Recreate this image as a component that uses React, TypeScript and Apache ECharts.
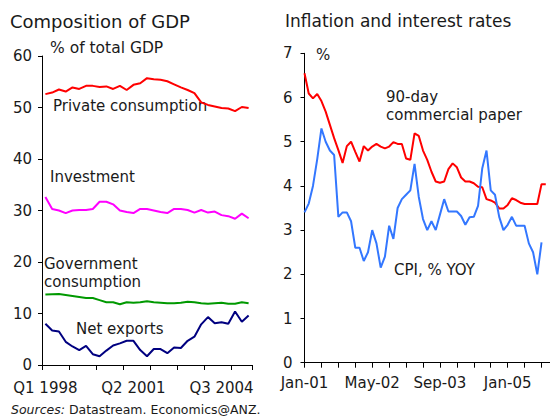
import React, { useEffect, useRef } from "react";
import * as echarts from "echarts";

// ---------- Left panel: Composition of GDP (quarterly, Q1 1998 – Q3 2005) ----------
const quarterYears = [1998, 1999, 2000, 2001, 2002, 2003, 2004, 2005];
const quarters: string[] = [];
quarterYears.forEach((y) => {
  for (let q = 1; q <= 4; q++) {
    if (y === 2005 && q > 3) break;
    quarters.push(`Q${q} ${y}`);
  }
});

const privateConsumption = [52.6, 52.9, 53.5, 53.1, 53.9, 53.6, 54.2, 54.2, 54.0, 54.1, 53.6, 54.2, 53.4, 54.4, 54.7, 55.7, 55.5, 55.4, 55.1, 54.5, 53.9, 53.4, 52.8, 51.0, 50.5, 50.2, 49.9, 49.8, 49.3, 50.1, 49.9];
const investment = [32.6, 30.3, 30.0, 29.5, 30.0, 30.1, 30.1, 30.3, 31.7, 31.7, 31.2, 30.0, 29.7, 29.5, 30.3, 30.3, 30.0, 29.7, 29.5, 30.3, 30.3, 30.1, 29.6, 30.1, 29.6, 29.8, 29.1, 28.9, 28.4, 29.4, 28.5];
const governmentConsumption = [13.7, 13.75, 13.8, 13.6, 13.4, 13.2, 13.0, 13.0, 12.6, 12.2, 12.2, 11.8, 12.2, 12.1, 12.2, 12.4, 12.2, 12.1, 12.0, 12.0, 12.1, 12.3, 12.2, 12.0, 11.9, 12.0, 12.1, 11.9, 11.9, 12.2, 12.0];
const netExports = [8.0, 6.7, 6.5, 4.5, 3.6, 2.9, 3.7, 2.1, 1.7, 2.8, 3.8, 4.2, 4.7, 4.7, 2.9, 1.7, 3.1, 3.1, 2.3, 3.4, 3.3, 4.7, 5.5, 7.9, 9.3, 8.1, 8.3, 8.0, 10.4, 8.4, 9.6];

// ---------- Right panel: Inflation and interest rates (monthly, Jan-01 – Nov-05) ----------
const monthNames = ["Jan", "Feb", "Mar", "Apr", "May", "Jun", "Jul", "Aug", "Sep", "Oct", "Nov", "Dec"];
const monthYears = ["01", "02", "03", "04", "05"];
const months: string[] = [];
monthYears.forEach((yy) => {
  monthNames.forEach((m, k) => {
    if (yy === "05" && k > 10) return;
    months.push(`${m}-${yy}`);
  });
});

const commercialPaper90 = [
  6.55, 6.09, 5.98, 6.08, 5.92, 5.68, 5.38, 5.08, 4.81, 4.52, 4.9, 5.0, 4.77, 4.55, 4.9,
  4.8, 4.89, 4.95, 4.89, 4.85, 4.89, 4.99, 4.95, 4.95, 4.62, 4.59, 5.19, 5.13, 4.8,
  4.59, 4.32, 4.1, 4.07, 4.1, 4.38, 4.51, 4.42, 4.19, 4.1, 4.1, 4.06, 3.98, 3.97,
  3.7, 3.67, 3.62, 3.49, 3.49, 3.57, 3.72, 3.68, 3.62, 3.59, 3.59, 3.59, 3.59, 4.04, 4.04,
];
const cpiYoY = [
  3.4, 3.6, 4.0, 4.6, 5.3, 5.0, 4.8, 4.7, 3.3, 3.4,
  3.4, 3.2, 2.6, 2.6, 2.3, 2.5, 3.0, 2.7, 2.15, 2.4,
  3.1, 2.8, 3.5, 3.7, 3.8, 3.9, 4.5, 3.75, 3.25, 3.0,
  3.2, 3.0, 3.35, 3.7, 3.42, 3.42, 3.42, 3.32, 3.12, 3.29,
  3.3, 3.55, 4.4, 4.8, 3.9, 3.8, 3.3, 3.0, 3.12, 3.3,
  3.1, 3.1, 3.1, 2.7, 2.5, 2.0, 2.72,
];

const FONT = "'DejaVu Sans', Verdana, sans-serif";
const TEXT_COLOR = "#1a1a1a";

function label(text: string, x: number, baseline: number, size = 15, extra: any = {}) {
  return {
    type: "text",
    x,
    y: baseline - size * 0.36,
    silent: true,
    style: {
      text,
      fontFamily: FONT,
      fontSize: size,
      fill: TEXT_COLOR,
      textAlign: "left",
      textVerticalAlign: "middle",
      ...extra,
    },
  };
}

export default function App() {
  const ref = useRef<HTMLDivElement>(null);

  useEffect(() => {
    if (!ref.current) return;
    const chart = echarts.init(ref.current, undefined, { renderer: "svg" });

    const axisLine = { show: true, lineStyle: { color: "#000", width: 1 } };
    const axisLabelBase = { fontFamily: FONT, fontSize: 15, color: TEXT_COLOR };

    chart.setOption({
      animation: false,
      backgroundColor: "#fff",
      grid: [
        { left: 42, top: 56, width: 210, height: 309 },
        { left: 304.5, top: 53.3, width: 247.2, height: 309.4 },
      ],
      xAxis: [
        {
          type: "category",
          gridIndex: 0,
          data: quarters,
          boundaryGap: true,
          axisLine,
          axisTick: { show: true, interval: 3, length: 5, lineStyle: { color: "#000" } },
          axisLabel: { ...axisLabelBase, interval: 12, margin: 15 },
          splitLine: { show: false },
        },
        {
          type: "category",
          gridIndex: 1,
          data: months,
          boundaryGap: false,
          axisLine,
          axisTick: { show: true, interval: 3, length: 5, lineStyle: { color: "#000" } },
          axisLabel: { ...axisLabelBase, interval: 15, margin: 13 },
          splitLine: { show: false },
        },
      ],
      yAxis: [
        {
          type: "value",
          gridIndex: 0,
          min: 0,
          max: 60,
          interval: 10,
          axisLine,
          axisTick: { show: true, length: 4, lineStyle: { color: "#000" } },
          axisLabel: { ...axisLabelBase, margin: 10 },
          splitLine: { show: false },
        },
        {
          type: "value",
          gridIndex: 1,
          min: 0,
          max: 7,
          interval: 1,
          axisLine,
          axisTick: { show: true, length: 4, lineStyle: { color: "#000" } },
          axisLabel: { ...axisLabelBase, margin: 12 },
          splitLine: { show: false },
        },
      ],
      series: [
        { name: "Private consumption", type: "line", xAxisIndex: 0, yAxisIndex: 0, data: privateConsumption, symbol: "none", lineStyle: { color: "#FF0000", width: 2 } },
        { name: "Investment", type: "line", xAxisIndex: 0, yAxisIndex: 0, data: investment, symbol: "none", lineStyle: { color: "#FF00FF", width: 2 } },
        { name: "Government consumption", type: "line", xAxisIndex: 0, yAxisIndex: 0, data: governmentConsumption, symbol: "none", lineStyle: { color: "#009900", width: 2 } },
        { name: "Net exports", type: "line", xAxisIndex: 0, yAxisIndex: 0, data: netExports, symbol: "none", lineStyle: { color: "#000080", width: 2 } },
        { name: "90-day commercial paper", type: "line", xAxisIndex: 1, yAxisIndex: 1, data: commercialPaper90, symbol: "none", lineStyle: { color: "#FF0000", width: 2 } },
        { name: "CPI, % YOY", type: "line", xAxisIndex: 1, yAxisIndex: 1, data: cpiYoY, symbol: "none", lineStyle: { color: "#3377FF", width: 2 } },
      ],
      graphic: [
        label("Composition of GDP", 10, 28.3, 18),
        label("Inflation and interest rates", 285, 26.7, 17),
        label("% of total GDP", 50, 53.3, 15.5),
        label("Private consumption", 53, 111, 15),
        label("Investment", 50, 182, 15),
        label("Government", 44, 269.5, 15),
        label("consumption", 44, 287, 15),
        label("Net exports", 76, 334, 15),
        label("%", 316, 60, 15),
        label("90-day", 386, 102, 15),
        label("commercial paper", 386, 120.5, 15),
        label("CPI, % YOY", 394, 275, 15),
        label("{i|Sources:} Datastream. Economics@ANZ.", 11, 414, 12.5, {
          rich: { i: { fontStyle: "italic", fontFamily: FONT, fontSize: 12.5, fill: TEXT_COLOR } },
        }),
      ],
    });

    return () => chart.dispose();
  }, []);

  return (
    <div
      ref={ref}
      style={{ position: "fixed", left: 0, top: 0, width: 550, height: 419, background: "#fff" }}
    />
  );
}
